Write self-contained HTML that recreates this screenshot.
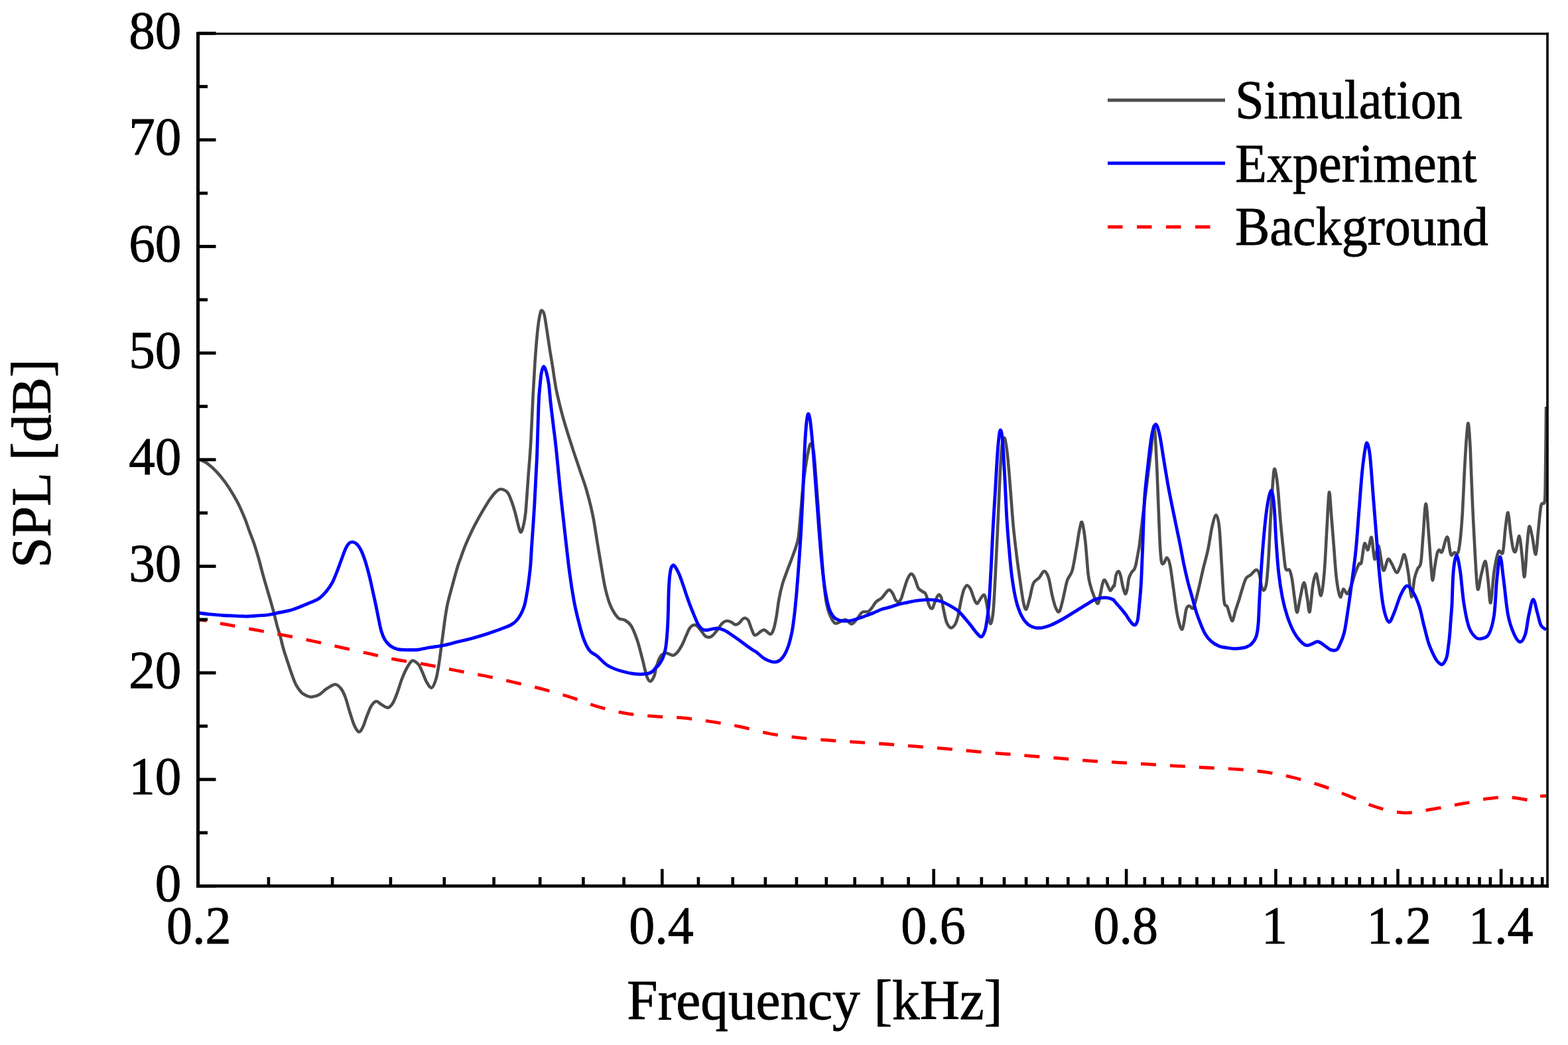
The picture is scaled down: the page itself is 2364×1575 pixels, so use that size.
<!DOCTYPE html>
<html><head><meta charset="utf-8"><title>SPL vs Frequency</title>
<style>
html,body{margin:0;padding:0;background:#fff;}
body{width:2364px;height:1575px;overflow:hidden;}
svg{display:block;}
text{font-family:"Liberation Serif","Times New Roman",serif;fill:#000;stroke:#000;stroke-width:0.9px;}
</style></head><body>
<svg width="2364" height="1575" viewBox="0 0 2364 1575">
<rect width="2364" height="1575" fill="#fff"/>
<path d="M301.8,692.8 C303.7,693.8 309.2,696.1 313.3,699.1 C317.4,702.1 321.9,706.1 326.1,710.6 C330.4,715.1 335.0,720.8 338.8,725.9 C342.6,731.0 345.6,735.7 349.0,741.2 C352.4,746.7 355.8,752.3 359.2,759.1 C362.6,765.9 366.6,775.3 369.4,782.1 C372.2,788.9 373.5,793.7 375.8,800.0 C378.1,806.3 381.0,813.0 383.3,819.9 C385.6,826.8 387.7,833.8 389.9,841.5 C392.1,849.2 394.3,858.3 396.5,866.3 C398.7,874.3 401.1,882.4 403.2,889.6 C405.3,896.8 407.4,903.7 409.0,909.5 C410.6,915.3 411.6,918.6 413.1,924.4 C414.6,930.2 416.6,938.8 418.1,944.3 C419.6,949.8 420.7,952.0 422.2,957.5 C423.7,963.0 425.4,971.0 427.2,977.4 C429.0,983.8 430.9,989.3 433.0,995.7 C435.1,1002.1 437.5,1009.5 439.7,1015.6 C441.9,1021.7 443.8,1027.5 446.3,1032.2 C448.8,1036.9 451.8,1041.0 454.6,1043.8 C457.4,1046.6 460.3,1047.7 462.9,1048.8 C465.5,1049.9 466.9,1050.8 470.0,1050.4 C473.1,1050.1 477.9,1048.8 481.7,1046.7 C485.4,1044.6 488.5,1040.5 492.5,1038.0 C496.5,1035.5 501.9,1031.5 505.5,1031.5 C509.1,1031.5 511.7,1034.8 514.2,1038.0 C516.7,1041.2 518.5,1045.2 520.7,1051.0 C522.9,1056.8 525.0,1065.8 527.2,1072.7 C529.4,1079.6 531.5,1087.2 533.7,1092.2 C536.0,1097.2 538.5,1102.3 540.7,1103.0 C542.9,1103.7 544.6,1100.5 546.7,1096.5 C548.8,1092.5 551.0,1084.6 553.2,1079.2 C555.4,1073.8 557.4,1067.7 559.7,1064.0 C562.1,1060.3 564.8,1057.5 567.3,1057.1 C569.8,1056.7 572.0,1060.2 574.9,1061.8 C577.8,1063.4 581.8,1066.9 584.7,1066.6 C587.6,1066.2 589.9,1063.4 592.2,1059.7 C594.6,1056.0 596.6,1050.3 598.8,1044.5 C601.0,1038.7 603.1,1030.8 605.3,1025.0 C607.5,1019.2 609.3,1014.5 611.8,1009.8 C614.2,1005.1 617.8,999.0 620.0,996.8 C622.2,994.6 622.9,995.6 624.8,996.5 C626.7,997.4 629.3,999.2 631.3,1001.9 C633.3,1004.6 634.7,1008.4 636.7,1012.8 C638.7,1017.1 640.9,1024.0 643.2,1028.0 C645.6,1032.0 648.4,1037.3 650.8,1036.6 C653.1,1035.9 655.5,1029.4 657.3,1023.6 C659.1,1017.8 660.1,1010.9 661.6,1001.9 C663.1,992.9 664.5,980.2 666.0,969.4 C667.5,958.6 668.9,946.7 670.3,936.9 C671.7,927.1 673.1,918.0 674.6,910.8 C676.1,903.6 676.5,902.9 679.0,893.5 C681.5,884.1 687.1,863.5 689.8,854.5 C692.5,845.5 693.4,844.4 695.2,839.3 C697.0,834.2 698.5,829.5 700.7,824.1 C702.9,818.7 705.6,812.5 708.3,806.7 C711.0,800.9 713.6,795.5 716.9,789.4 C720.1,783.3 724.2,776.0 727.8,769.9 C731.4,763.8 735.4,757.2 738.6,752.5 C741.9,747.8 744.6,744.2 747.3,741.7 C750.0,739.2 752.0,737.3 754.9,737.3 C757.8,737.3 762.1,739.2 764.6,741.7 C767.1,744.2 768.1,747.4 770.0,752.2 C771.9,757.0 774.2,764.1 776.1,770.6 C778.0,777.1 779.7,785.7 781.2,791.0 C782.7,796.3 783.9,802.2 785.3,802.2 C786.7,802.2 788.2,795.9 789.4,791.0 C790.6,786.1 791.5,780.2 792.4,772.7 C793.2,765.2 793.8,755.3 794.5,746.1 C795.2,736.9 795.8,726.8 796.5,717.6 C797.2,708.4 797.9,700.5 798.6,691.0 C799.3,681.5 799.8,676.5 800.6,660.4 C801.5,644.3 802.7,613.3 803.7,594.3 C804.7,575.3 805.6,560.6 806.5,546.6 C807.4,532.6 808.4,520.5 809.3,510.2 C810.2,499.9 811.2,491.4 812.1,484.9 C813.0,478.3 814.1,473.7 814.9,470.9 C815.7,468.1 816.1,467.6 817.0,468.1 C817.9,468.6 819.2,468.6 820.5,473.7 C821.8,478.8 823.3,490.0 824.7,498.9 C826.1,507.8 827.5,518.1 828.9,527.0 C830.3,535.9 831.9,544.7 833.1,552.2 C834.3,559.7 834.9,565.3 836.0,571.9 C837.1,578.5 837.4,582.2 839.6,591.9 C841.8,601.6 845.4,616.8 849.1,630.1 C852.8,643.4 857.6,658.3 861.9,671.6 C866.1,684.9 870.9,698.6 874.6,709.8 C878.3,720.9 881.0,727.4 884.2,738.5 C887.4,749.6 891.1,764.0 893.7,776.7 C896.4,789.5 898.0,802.2 900.1,815.0 C902.2,827.8 904.4,841.0 906.5,853.2 C908.6,865.4 910.5,878.2 912.9,888.3 C915.3,898.4 917.6,906.6 920.8,913.8 C924.0,921.0 928.5,927.8 932.0,931.3 C935.5,934.8 938.4,932.6 941.6,934.5 C944.8,936.4 947.9,937.5 951.1,942.5 C954.3,947.5 957.8,956.3 960.7,964.8 C963.6,973.3 966.2,984.5 968.6,993.5 C971.0,1002.5 973.0,1013.4 975.0,1019.0 C977.0,1024.6 978.5,1026.9 980.4,1026.9 C982.3,1026.9 984.7,1022.4 986.2,1019.0 C987.7,1015.6 988.0,1010.9 989.2,1006.7 C990.4,1002.5 992.0,997.3 993.4,994.0 C994.8,990.7 995.7,988.6 997.6,987.0 C999.5,985.4 1001.8,984.1 1004.6,984.2 C1007.4,984.3 1011.7,987.9 1014.5,987.7 C1017.3,987.5 1019.2,985.5 1021.5,982.8 C1023.8,980.1 1026.4,975.6 1028.5,971.6 C1030.6,967.6 1032.2,963.0 1034.1,958.9 C1036.0,954.8 1037.8,949.8 1039.7,947.0 C1041.6,944.2 1043.5,942.7 1045.4,942.1 C1047.3,941.5 1048.9,941.9 1051.0,943.5 C1053.1,945.1 1055.9,949.3 1058.0,951.9 C1060.1,954.5 1061.7,957.5 1063.6,958.9 C1065.5,960.3 1067.3,960.6 1069.2,960.4 C1071.1,960.2 1072.7,959.4 1074.8,957.5 C1076.9,955.6 1079.4,952.1 1081.8,949.1 C1084.2,946.1 1086.6,941.5 1088.9,939.3 C1091.2,937.1 1093.6,936.0 1095.9,935.8 C1098.2,935.6 1100.8,937.0 1102.9,937.9 C1105.0,938.8 1106.6,941.2 1108.5,941.4 C1110.4,941.6 1112.2,940.7 1114.1,939.3 C1116.0,937.9 1118.1,934.3 1119.7,933.0 C1121.3,931.7 1122.5,931.2 1123.9,931.6 C1125.3,932.0 1126.8,932.7 1128.2,935.1 C1129.6,937.5 1131.0,942.8 1132.4,946.3 C1133.8,949.8 1135.3,954.3 1136.6,956.1 C1137.9,957.9 1137.5,958.1 1140.0,957.0 C1142.5,955.9 1147.9,949.6 1151.5,949.4 C1155.1,949.2 1159.2,956.2 1161.7,955.8 C1164.2,955.4 1165.3,951.3 1166.8,946.8 C1168.3,942.3 1169.3,936.2 1170.6,929.0 C1171.9,921.8 1172.9,911.5 1174.4,903.4 C1175.9,895.3 1177.7,887.3 1179.6,880.5 C1181.5,873.7 1183.6,869.0 1185.9,862.6 C1188.2,856.2 1191.2,848.6 1193.6,842.2 C1195.9,835.8 1198.3,829.8 1200.0,824.3 C1201.7,818.8 1202.6,817.1 1203.8,809.0 C1205.0,800.9 1205.8,787.8 1206.9,775.9 C1208.0,764.0 1209.0,749.1 1210.2,737.6 C1211.4,726.1 1212.7,715.9 1214.0,707.0 C1215.3,698.1 1216.4,690.4 1217.8,684.0 C1219.2,677.6 1220.7,669.1 1222.2,668.7 C1223.7,668.3 1225.4,672.0 1226.8,681.4 C1228.2,690.8 1229.3,709.0 1230.6,724.8 C1231.9,740.5 1233.1,758.9 1234.4,775.9 C1235.7,792.9 1236.9,809.9 1238.2,826.9 C1239.5,843.9 1240.8,864.3 1242.1,877.9 C1243.4,891.5 1244.4,900.4 1245.9,908.5 C1247.4,916.6 1248.9,921.3 1251.0,926.4 C1253.1,931.5 1255.9,937.5 1258.7,939.2 C1261.5,940.9 1264.8,937.5 1267.6,936.6 C1270.3,935.8 1272.4,933.5 1275.2,934.1 C1278.0,934.7 1281.2,940.8 1284.2,940.4 C1287.2,940.0 1290.5,934.5 1293.1,931.5 C1295.7,928.5 1297.4,924.2 1300.0,922.6 C1302.6,921.0 1306.3,922.9 1308.8,921.8 C1311.3,920.7 1312.8,918.2 1314.8,915.8 C1316.8,913.3 1318.4,909.5 1320.8,907.1 C1323.2,904.7 1326.8,903.5 1329.4,901.1 C1332.0,898.7 1334.4,894.5 1336.3,892.5 C1338.2,890.5 1339.0,888.8 1340.6,889.1 C1342.2,889.4 1344.2,891.8 1345.8,894.2 C1347.4,896.6 1348.7,901.6 1350.1,903.7 C1351.5,905.9 1353.0,907.4 1354.4,907.1 C1355.8,906.8 1357.3,905.1 1358.7,902.0 C1360.1,898.9 1361.4,893.1 1363.0,888.2 C1364.6,883.3 1366.5,876.6 1368.2,872.7 C1369.9,868.8 1371.7,865.7 1373.3,865.0 C1374.9,864.3 1376.3,866.4 1377.6,868.4 C1378.9,870.4 1379.9,874.0 1381.1,877.0 C1382.2,880.0 1383.1,884.2 1384.5,886.5 C1385.9,888.8 1388.0,889.5 1389.7,890.8 C1391.4,892.1 1393.6,892.6 1394.9,894.2 C1396.2,895.8 1396.6,897.6 1397.4,900.3 C1398.2,903.0 1399.1,908.0 1400.0,910.6 C1400.9,913.2 1401.6,914.8 1402.6,915.8 C1403.6,916.8 1404.9,918.0 1406.1,916.6 C1407.2,915.2 1408.1,910.4 1409.5,907.1 C1410.9,903.8 1413.1,897.9 1414.7,896.8 C1416.3,895.7 1417.9,897.6 1419.0,900.3 C1420.1,903.0 1420.7,908.9 1421.5,913.2 C1422.3,917.5 1423.1,921.8 1424.1,926.1 C1425.1,930.4 1426.0,935.6 1427.6,939.0 C1429.2,942.4 1431.6,945.9 1433.6,946.3 C1435.6,946.7 1437.9,944.2 1439.6,941.6 C1441.3,939.0 1442.8,934.4 1443.9,930.4 C1445.1,926.4 1445.5,922.5 1446.5,917.5 C1447.5,912.5 1448.8,905.2 1450.0,900.3 C1451.2,895.4 1452.1,891.2 1453.4,888.2 C1454.8,885.2 1456.5,882.4 1458.1,882.2 C1459.7,882.1 1461.5,885.0 1462.9,887.3 C1464.3,889.6 1465.2,893.0 1466.3,896.0 C1467.4,899.0 1468.6,903.1 1469.8,905.4 C1471.0,907.7 1471.9,910.0 1473.2,909.7 C1474.5,909.4 1476.1,905.7 1477.5,903.7 C1478.9,901.7 1480.5,898.6 1481.8,897.7 C1483.0,896.8 1483.8,895.4 1485.0,898.5 C1486.2,901.6 1487.4,909.3 1488.7,916.2 C1490.0,923.1 1491.6,938.9 1493.0,940.0 C1494.4,941.1 1496.0,934.6 1497.3,922.7 C1498.6,910.8 1499.5,888.4 1500.6,868.5 C1501.7,848.6 1502.7,826.9 1503.8,803.4 C1504.9,779.9 1506.0,749.3 1507.1,727.6 C1508.2,705.9 1509.1,684.6 1510.4,673.4 C1511.7,662.2 1513.3,658.2 1514.7,660.4 C1516.1,662.6 1517.5,673.4 1519.0,686.4 C1520.5,699.4 1522.0,720.7 1523.4,738.4 C1524.9,756.1 1526.1,775.6 1527.7,792.6 C1529.3,809.6 1531.3,825.8 1533.1,840.3 C1534.9,854.8 1536.9,868.1 1538.5,879.3 C1540.1,890.5 1541.5,901.0 1542.9,907.5 C1544.4,914.0 1545.6,919.4 1547.2,918.3 C1548.8,917.2 1550.8,907.5 1552.6,901.0 C1554.4,894.5 1555.7,884.3 1558.0,879.3 C1560.3,874.2 1564.0,873.8 1566.7,870.7 C1569.4,867.6 1572.0,860.9 1574.3,860.9 C1576.6,860.9 1578.8,864.7 1580.8,870.7 C1582.8,876.7 1584.4,889.1 1586.2,896.7 C1588.0,904.3 1589.9,912.1 1591.7,916.2 C1593.5,920.4 1595.3,923.8 1597.1,921.6 C1598.9,919.4 1600.5,911.0 1602.5,903.2 C1604.5,895.4 1606.7,882.2 1609.0,875.0 C1611.3,867.8 1614.2,868.1 1616.6,859.8 C1618.9,851.5 1621.3,835.2 1623.1,825.1 C1624.9,815.0 1626.0,805.4 1627.4,799.1 C1628.8,792.8 1629.8,784.7 1631.3,787.2 C1632.8,789.7 1634.5,801.1 1636.1,814.3 C1637.7,827.4 1639.3,854.6 1640.7,866.1 C1642.1,877.6 1642.9,878.1 1644.2,883.3 C1645.5,888.5 1647.0,892.7 1648.8,897.1 C1650.6,901.5 1653.4,910.1 1655.1,909.7 C1656.8,909.3 1657.9,900.0 1659.1,894.8 C1660.3,889.6 1661.5,882.2 1662.5,878.7 C1663.5,875.2 1664.2,873.7 1665.4,874.1 C1666.6,874.5 1668.0,878.3 1669.4,881.0 C1670.8,883.7 1672.5,889.8 1674.0,890.2 C1675.5,890.6 1677.6,884.6 1678.6,883.3 C1679.6,882.0 1679.3,885.3 1680.0,882.5 C1680.7,879.7 1681.6,870.0 1682.7,866.4 C1683.8,862.8 1685.5,860.6 1686.7,861.1 C1687.9,861.6 1688.8,865.5 1689.8,869.1 C1690.8,872.7 1691.4,878.2 1692.5,882.5 C1693.6,886.8 1695.3,894.2 1696.5,895.0 C1697.7,895.8 1698.7,890.9 1699.6,887.0 C1700.5,883.1 1700.9,875.8 1701.9,871.8 C1703.0,867.8 1704.5,865.3 1705.9,862.9 C1707.3,860.5 1709.2,859.9 1710.4,857.5 C1711.6,855.1 1712.2,852.2 1713.0,848.6 C1713.8,845.0 1714.5,840.1 1715.3,836.1 C1716.0,832.1 1717.0,827.4 1717.5,824.5 C1718.0,821.6 1717.3,826.6 1718.2,818.8 C1719.1,811.0 1721.2,792.5 1723.0,777.6 C1724.8,762.7 1727.1,745.3 1729.1,729.1 C1731.1,712.9 1733.4,695.2 1735.2,680.6 C1737.0,666.0 1738.6,639.8 1740.0,641.8 C1741.4,643.8 1742.6,674.1 1743.6,692.7 C1744.6,711.3 1745.3,733.1 1746.1,753.3 C1746.9,773.5 1747.7,798.5 1748.5,813.9 C1749.3,829.3 1749.9,839.6 1750.9,845.5 C1751.9,851.4 1753.1,849.9 1754.5,849.1 C1755.9,848.3 1757.8,840.0 1759.4,840.6 C1761.0,841.2 1762.6,845.0 1764.2,852.7 C1765.8,860.4 1767.3,874.2 1769.1,886.7 C1770.9,899.2 1773.0,917.6 1775.2,927.9 C1777.4,938.2 1780.2,950.1 1782.4,948.5 C1784.6,946.9 1786.7,924.1 1788.5,918.2 C1790.3,912.3 1791.5,913.7 1793.3,913.3 C1795.1,912.9 1797.2,919.8 1799.4,915.8 C1801.6,911.8 1804.3,898.8 1806.7,889.1 C1809.1,879.4 1811.5,867.7 1813.9,857.6 C1816.3,847.5 1819.0,839.0 1821.2,828.5 C1823.4,818.0 1825.3,803.2 1827.3,794.5 C1829.3,785.8 1831.5,776.4 1833.3,776.4 C1835.1,776.4 1836.8,782.2 1838.2,794.5 C1839.6,806.8 1840.6,831.7 1841.8,850.3 C1843.0,868.9 1844.1,895.4 1845.5,906.1 C1846.9,916.8 1848.7,910.5 1850.3,914.5 C1851.9,918.5 1853.8,926.8 1855.2,930.3 C1856.6,933.8 1857.2,937.1 1858.4,935.4 C1859.7,933.7 1861.0,925.5 1862.7,920.1 C1864.4,914.7 1866.5,909.0 1868.4,902.9 C1870.3,896.8 1872.3,889.0 1874.1,883.7 C1875.8,878.4 1877.0,874.2 1878.9,871.3 C1880.8,868.4 1883.0,868.6 1885.6,866.5 C1888.1,864.4 1892.0,858.9 1894.2,858.9 C1896.4,858.9 1897.7,862.4 1899.0,866.5 C1900.3,870.6 1900.8,879.9 1901.9,883.7 C1903.0,887.5 1904.4,890.5 1905.7,889.5 C1907.0,888.5 1908.4,885.7 1909.5,878.0 C1910.6,870.3 1911.4,858.8 1912.4,843.5 C1913.4,828.2 1914.3,803.6 1915.3,786.1 C1916.3,768.6 1917.2,751.4 1918.2,738.3 C1919.2,725.2 1920.0,711.5 1921.0,707.7 C1922.0,703.9 1922.9,710.2 1923.9,715.3 C1924.9,720.4 1925.7,726.5 1926.8,738.3 C1927.9,750.1 1929.3,771.8 1930.6,786.1 C1931.9,800.5 1933.1,812.6 1934.4,824.4 C1935.7,836.2 1936.7,851.1 1938.3,856.9 C1939.9,862.6 1942.4,856.3 1944.0,858.9 C1945.6,861.5 1946.5,865.2 1947.8,872.2 C1949.1,879.2 1950.4,892.5 1951.7,901.0 C1953.0,909.5 1954.1,923.0 1955.5,923.0 C1956.9,923.0 1958.5,908.5 1960.3,901.0 C1962.0,893.5 1964.2,878.0 1966.0,878.0 C1967.8,878.0 1969.4,893.7 1970.8,901.0 C1972.2,908.3 1973.2,925.2 1974.6,922.0 C1976.0,918.8 1977.8,891.4 1979.4,881.8 C1981.0,872.2 1982.8,864.6 1984.2,864.6 C1985.6,864.6 1986.7,876.4 1988.0,881.8 C1989.3,887.2 1990.4,900.3 1991.8,897.1 C1993.2,893.9 1995.1,879.6 1996.6,862.7 C1998.0,845.8 1999.3,815.8 2000.5,795.7 C2001.7,775.6 2002.8,745.3 2003.9,742.1 C2005.0,738.9 2006.0,762.9 2007.2,776.6 C2008.4,790.3 2009.7,808.5 2011.0,824.4 C2012.3,840.3 2013.4,859.7 2015.0,872.2 C2016.6,884.7 2018.9,897.0 2020.6,899.6 C2022.3,902.2 2023.5,888.6 2025.3,887.8 C2027.1,887.0 2029.2,895.7 2031.2,894.9 C2033.2,894.1 2035.1,888.2 2037.1,883.1 C2039.1,878.0 2041.0,869.7 2043.0,864.2 C2045.0,858.7 2047.3,852.8 2048.9,850.0 C2050.5,847.2 2051.1,852.8 2052.5,847.7 C2053.9,842.6 2055.5,822.5 2057.2,819.4 C2058.8,816.2 2060.6,830.4 2062.4,828.8 C2064.2,827.2 2066.1,807.5 2067.8,809.9 C2069.5,812.2 2070.7,840.7 2072.5,842.9 C2074.3,845.1 2076.2,820.1 2078.4,822.9 C2080.6,825.7 2083.1,856.2 2085.5,859.5 C2087.9,862.8 2090.4,844.5 2092.6,842.9 C2094.8,841.3 2096.3,846.6 2098.5,850.0 C2100.7,853.4 2103.4,862.6 2105.6,863.0 C2107.8,863.4 2109.5,856.9 2111.5,852.4 C2113.5,847.9 2115.4,833.9 2117.4,835.9 C2119.4,837.9 2121.5,853.6 2123.3,864.2 C2125.1,874.8 2126.4,898.4 2128.0,899.6 C2129.6,900.8 2131.1,878.4 2132.7,871.3 C2134.3,864.2 2135.8,861.0 2137.4,857.1 C2139.0,853.2 2140.8,856.4 2142.2,847.7 C2143.6,839.1 2144.4,820.0 2145.7,805.2 C2146.9,790.5 2148.3,759.2 2149.7,759.2 C2151.1,759.2 2152.7,789.7 2154.0,805.2 C2155.3,820.7 2156.5,840.8 2157.5,852.4 C2158.5,864.0 2158.9,874.8 2159.9,874.8 C2160.9,874.8 2162.2,859.3 2163.4,852.4 C2164.6,845.5 2165.8,837.4 2166.9,833.5 C2168.0,829.6 2168.8,829.1 2170.0,828.8 C2171.2,828.5 2172.2,834.8 2174.2,831.5 C2176.2,828.2 2179.8,808.6 2182.0,809.3 C2184.2,809.9 2185.4,831.5 2187.2,835.4 C2188.9,839.3 2190.5,833.7 2192.5,832.8 C2194.5,831.9 2197.1,838.5 2199.0,830.2 C2200.9,821.9 2202.7,804.0 2204.2,783.1 C2205.7,762.2 2207.0,726.4 2208.2,704.6 C2209.4,682.8 2210.6,663.2 2211.6,652.3 C2212.6,641.4 2213.0,634.8 2213.9,639.2 C2214.8,643.6 2215.8,658.9 2216.8,678.5 C2217.8,698.1 2218.7,730.8 2219.9,756.9 C2221.1,783.0 2222.6,813.6 2223.9,835.4 C2225.2,857.2 2226.3,882.5 2227.8,887.7 C2229.3,892.9 2231.1,873.8 2233.0,866.8 C2234.9,859.8 2237.8,844.6 2239.5,845.9 C2241.2,847.2 2242.2,864.2 2243.5,874.7 C2244.8,885.2 2245.9,910.9 2247.4,908.7 C2248.9,906.5 2250.6,874.5 2252.6,861.6 C2254.6,848.7 2257.0,836.3 2259.2,831.5 C2261.4,826.7 2264.0,838.7 2265.7,832.8 C2267.4,826.9 2268.3,806.2 2269.6,796.2 C2270.9,786.2 2272.3,771.3 2273.6,772.6 C2274.9,773.9 2276.2,794.8 2277.5,804.0 C2278.8,813.2 2280.1,823.2 2281.4,827.6 C2282.7,832.0 2283.8,833.5 2285.3,830.2 C2286.8,826.9 2289.1,807.1 2290.6,808.0 C2292.1,808.9 2293.2,825.2 2294.5,835.4 C2295.8,845.6 2297.1,871.6 2298.4,869.4 C2299.7,867.2 2301.1,834.9 2302.3,822.3 C2303.5,809.7 2304.2,795.8 2305.5,793.6 C2306.8,791.4 2308.5,802.3 2310.2,809.3 C2311.8,816.3 2313.9,837.1 2315.4,835.4 C2316.9,833.6 2318.0,811.0 2319.3,798.8 C2320.6,786.6 2321.8,769.2 2323.3,762.2 C2324.8,755.2 2327.4,762.1 2328.5,756.9 C2329.6,751.7 2329.4,754.8 2329.8,730.8 C2330.2,706.8 2330.9,632.7 2331.1,613.1" fill="none" stroke="#4d4d4d" stroke-width="4.6" stroke-linejoin="round"/>
<path d="M299.5,934.5 C300.4,934.5 297.9,933.5 305.2,934.7 C312.5,935.9 329.9,939.2 343.5,941.7 C357.1,944.2 372.5,947.1 386.8,949.7 C401.1,952.4 415.1,954.8 429.5,957.6 C443.9,960.4 458.5,963.4 472.9,966.5 C487.2,969.6 501.2,972.9 515.6,976.1 C530.0,979.3 545.8,982.8 559.0,985.7 C572.2,988.6 580.4,990.9 594.6,993.6 C608.8,996.3 628.8,999.1 644.2,1001.9 C659.6,1004.7 672.9,1007.7 687.2,1010.5 C701.6,1013.3 715.9,1015.6 730.3,1018.5 C744.6,1021.4 759.0,1024.7 773.3,1028.0 C787.6,1031.3 802.1,1034.5 816.3,1038.2 C830.5,1041.9 844.4,1045.9 858.4,1050.3 C872.4,1054.7 886.1,1060.5 900.3,1064.7 C914.4,1068.9 928.8,1072.7 943.3,1075.2 C957.8,1077.7 972.4,1078.5 987.0,1079.7 C1001.6,1080.9 1016.4,1080.8 1031.0,1082.2 C1045.6,1083.6 1060.2,1085.8 1074.7,1088.0 C1089.2,1090.2 1103.2,1092.6 1117.7,1095.6 C1132.2,1098.6 1147.0,1103.3 1161.5,1106.0 C1176.0,1108.7 1190.2,1110.3 1204.8,1111.9 C1219.4,1113.5 1234.2,1114.6 1248.9,1115.7 C1263.6,1116.8 1278.1,1117.7 1292.7,1118.7 C1307.3,1119.7 1322.2,1120.5 1336.8,1121.5 C1351.4,1122.5 1365.5,1123.8 1380.2,1124.9 C1394.9,1126.1 1410.2,1127.2 1424.8,1128.4 C1439.4,1129.6 1453.4,1131.0 1468.1,1132.3 C1482.8,1133.6 1498.0,1134.9 1512.7,1136.1 C1527.4,1137.3 1541.4,1138.4 1556.1,1139.6 C1570.8,1140.8 1586.1,1142.0 1600.7,1143.2 C1615.3,1144.4 1629.3,1145.8 1643.8,1146.8 C1658.3,1147.8 1673.2,1148.4 1687.9,1149.3 C1702.6,1150.2 1717.0,1151.0 1731.7,1151.9 C1746.4,1152.8 1761.5,1153.8 1776.1,1154.6 C1790.7,1155.4 1804.8,1156.2 1819.4,1157.0 C1834.1,1157.8 1849.3,1158.2 1864.0,1159.3 C1878.7,1160.4 1893.1,1161.6 1907.5,1163.7 C1921.9,1165.8 1936.0,1168.5 1950.3,1172.0 C1964.5,1175.5 1979.2,1179.8 1993.0,1184.4 C2006.8,1189.0 2019.6,1194.1 2033.2,1199.4 C2046.8,1204.7 2060.5,1212.0 2074.6,1216.3 C2088.7,1220.6 2103.6,1224.6 2117.9,1225.1 C2132.2,1225.6 2148.2,1221.3 2160.7,1219.4 C2173.1,1217.5 2185.3,1214.8 2192.6,1213.5 C2199.9,1212.2 2200.4,1212.1 2204.3,1211.4 C2208.2,1210.7 2210.5,1210.5 2216.0,1209.4 C2221.5,1208.3 2231.6,1205.8 2237.1,1204.7 C2242.6,1203.7 2244.9,1203.6 2248.8,1203.1 C2252.7,1202.6 2257.0,1201.9 2260.6,1201.6 C2264.2,1201.3 2267.2,1201.1 2270.5,1201.2 C2273.8,1201.3 2276.8,1201.6 2280.3,1202.0 C2283.8,1202.4 2287.8,1203.0 2291.5,1203.6 C2295.2,1204.2 2299.9,1205.2 2302.7,1205.6 C2305.4,1206.0 2306.1,1206.2 2308.0,1205.8 C2309.9,1205.4 2311.8,1204.3 2314.0,1203.4 C2316.2,1202.5 2318.2,1200.8 2321.0,1200.2 C2323.8,1199.6 2329.3,1199.7 2331.0,1199.6" fill="none" stroke="#ff0000" stroke-width="4.8" stroke-dasharray="23 21" stroke-dashoffset="11"/>
<path d="M299.3,923.7 C301.6,924.0 307.1,924.9 313.3,925.5 C319.5,926.1 327.4,927.0 336.3,927.5 C345.2,928.0 361.3,928.5 366.9,928.8 C372.5,929.0 366.7,929.1 370.0,929.0 C373.3,928.9 381.1,928.4 386.6,928.0 C392.1,927.6 397.7,927.6 403.2,926.9 C408.7,926.1 414.3,924.6 419.8,923.5 C425.3,922.4 430.8,921.7 436.3,920.2 C441.8,918.7 447.3,916.5 452.9,914.4 C458.5,912.2 465.2,909.4 470.0,907.3 C474.8,905.1 477.9,904.3 481.7,901.5 C485.4,898.7 489.2,894.6 492.5,890.6 C495.8,886.6 498.7,882.3 501.2,877.6 C503.7,872.9 505.5,867.8 507.7,862.4 C509.9,857.0 512.0,850.8 514.2,845.0 C516.4,839.2 518.7,832.0 520.7,827.7 C522.7,823.4 524.3,820.8 526.1,819.0 C527.9,817.2 529.5,816.7 531.5,816.9 C533.5,817.1 535.8,817.9 538.0,820.1 C540.2,822.3 542.4,825.4 544.6,829.9 C546.8,834.4 548.9,840.3 551.1,847.2 C553.3,854.1 555.8,863.9 557.6,871.1 C559.4,878.3 560.5,884.1 561.9,890.6 C563.3,897.1 564.8,903.2 566.2,910.1 C567.7,917.0 569.2,924.9 570.6,931.8 C572.0,938.7 573.3,945.9 574.9,951.3 C576.5,956.7 578.1,960.7 580.3,964.3 C582.5,967.9 584.8,970.6 587.9,973.0 C591.0,975.4 594.8,977.3 598.8,978.4 C602.8,979.5 608.3,979.3 611.8,979.5 C615.3,979.7 616.9,979.5 620.0,979.5 C623.1,979.5 625.6,979.8 630.2,979.2 C634.8,978.6 641.0,977.0 647.5,975.9 C654.0,974.8 662.0,974.2 669.2,972.7 C676.4,971.2 683.7,969.0 690.9,967.2 C698.1,965.4 705.4,963.8 712.6,961.8 C719.8,959.8 727.1,957.6 734.3,955.3 C741.5,952.9 750.0,949.9 756.0,947.7 C762.0,945.5 766.3,944.0 770.0,942.0 C773.7,940.0 775.7,938.6 778.2,935.9 C780.8,933.2 783.3,929.4 785.3,925.7 C787.3,922.0 789.0,917.9 790.4,913.5 C791.8,909.1 792.5,904.7 793.5,899.2 C794.5,893.8 795.5,888.3 796.5,880.8 C797.5,873.3 798.8,863.8 799.6,854.3 C800.5,844.8 800.9,833.9 801.6,823.7 C802.3,813.5 803.0,803.3 803.7,793.1 C804.4,782.9 805.0,774.3 805.7,762.4 C806.4,750.5 807.1,735.2 807.8,721.6 C808.5,708.0 809.1,699.7 809.8,680.8 C810.5,661.9 811.4,625.1 812.1,608.4 C812.8,591.6 813.5,588.0 814.2,580.3 C814.9,572.6 815.4,566.7 816.3,562.0 C817.2,557.3 818.5,552.2 819.8,552.2 C821.1,552.2 822.7,557.3 824.0,562.0 C825.3,566.7 826.5,572.6 827.5,580.3 C828.5,588.0 829.1,597.9 830.3,608.4 C831.5,618.9 833.5,634.9 834.5,643.5 C835.5,652.1 835.8,652.7 836.6,660.0 C837.5,667.3 838.1,672.3 839.6,687.5 C841.1,702.7 843.8,731.0 845.9,751.2 C848.0,771.4 850.2,790.0 852.3,808.6 C854.4,827.2 856.6,846.9 858.7,862.8 C860.8,878.7 863.0,892.5 865.1,904.2 C867.2,915.9 869.0,923.3 871.4,932.9 C873.8,942.5 876.5,953.6 879.4,961.6 C882.3,969.6 885.5,976.2 889.0,980.7 C892.5,985.2 895.6,985.0 900.1,988.7 C904.6,992.4 910.2,999.3 916.1,1003.0 C922.0,1006.7 928.3,1008.9 935.2,1011.0 C942.1,1013.1 951.1,1015.0 957.5,1015.8 C963.9,1016.6 969.1,1016.3 973.4,1015.8 C977.6,1015.3 980.2,1014.5 983.0,1012.6 C985.8,1010.7 988.5,1006.1 990.0,1004.6 C991.5,1003.1 990.5,1005.9 992.0,1003.9 C993.5,1001.9 997.1,996.8 999.0,992.6 C1000.9,988.4 1002.1,984.0 1003.2,978.6 C1004.3,973.2 1004.8,967.0 1005.4,960.4 C1006.0,953.8 1006.4,946.3 1006.8,939.3 C1007.1,932.3 1007.3,926.4 1007.5,918.2 C1007.7,910.0 1007.9,898.4 1008.2,890.2 C1008.6,882.0 1009.0,874.7 1009.6,869.1 C1010.2,863.5 1010.8,859.4 1011.7,856.5 C1012.6,853.6 1013.9,851.6 1015.2,851.6 C1016.5,851.6 1017.9,854.0 1019.4,856.5 C1020.9,859.0 1022.5,862.1 1024.3,866.3 C1026.0,870.5 1028.0,876.4 1029.9,881.8 C1031.8,887.2 1033.6,893.2 1035.5,898.6 C1037.4,904.0 1039.2,909.1 1041.1,914.0 C1043.0,918.9 1044.9,923.6 1046.8,928.1 C1048.7,932.6 1050.5,937.4 1052.4,940.7 C1054.3,944.0 1056.1,946.2 1058.0,947.7 C1059.9,949.2 1061.3,949.7 1063.6,949.8 C1065.9,949.9 1069.0,948.9 1072.0,948.4 C1075.0,947.9 1078.5,946.8 1081.8,947.0 C1085.1,947.2 1088.2,948.2 1091.7,949.8 C1095.2,951.4 1099.2,954.3 1102.9,956.8 C1106.6,959.3 1110.3,961.9 1114.1,964.6 C1117.8,967.3 1121.7,970.3 1125.4,973.0 C1129.2,975.7 1134.2,979.1 1136.6,980.7 C1139.0,982.3 1137.3,980.5 1140.0,982.5 C1142.7,984.5 1148.1,990.2 1152.8,992.8 C1157.5,995.4 1163.8,997.9 1168.1,997.9 C1172.3,997.9 1175.1,996.2 1178.3,992.8 C1181.5,989.4 1184.7,983.8 1187.2,977.4 C1189.8,971.0 1191.9,962.6 1193.6,954.5 C1195.3,946.4 1196.1,939.6 1197.4,929.0 C1198.7,918.4 1199.9,905.6 1201.2,890.7 C1202.5,875.8 1204.0,854.6 1205.1,839.7 C1206.2,824.8 1206.8,816.3 1207.6,801.4 C1208.4,786.5 1209.3,769.4 1210.2,750.3 C1211.1,731.2 1211.9,704.5 1212.7,686.6 C1213.5,668.8 1214.4,653.6 1215.3,643.2 C1216.2,632.8 1217.2,625.3 1218.3,624.0 C1219.4,622.7 1220.5,627.2 1221.7,635.5 C1222.9,643.8 1224.2,658.9 1225.5,673.8 C1226.8,688.7 1228.0,707.8 1229.3,724.8 C1230.6,741.8 1231.8,758.9 1233.1,775.9 C1234.4,792.9 1235.7,812.0 1237.0,826.9 C1238.3,841.8 1239.5,854.2 1240.8,865.2 C1242.1,876.2 1243.1,884.7 1244.6,893.2 C1246.1,901.7 1247.6,910.0 1249.7,916.2 C1251.8,922.4 1254.4,927.0 1257.4,930.2 C1260.4,933.4 1263.3,934.4 1267.6,935.3 C1271.8,936.1 1277.5,936.1 1282.9,935.3 C1288.3,934.4 1296.5,931.3 1300.0,930.2 C1303.5,929.1 1300.8,929.8 1303.6,928.7 C1306.3,927.7 1312.2,925.6 1316.5,923.9 C1320.8,922.2 1325.1,919.8 1329.4,918.3 C1333.7,916.8 1338.0,916.2 1342.3,914.9 C1346.6,913.6 1351.0,911.8 1355.3,910.6 C1359.6,909.5 1363.9,908.9 1368.2,908.0 C1372.5,907.1 1376.8,906.0 1381.1,905.4 C1385.4,904.8 1389.7,904.3 1394.0,904.1 C1398.3,903.9 1402.6,903.7 1406.9,904.1 C1411.2,904.5 1415.5,905.2 1419.8,906.7 C1424.1,908.2 1428.4,910.7 1432.7,913.2 C1437.0,915.7 1442.1,918.8 1445.7,921.8 C1449.3,924.8 1451.4,928.0 1454.3,931.3 C1457.2,934.6 1460.0,938.0 1462.9,941.6 C1465.8,945.2 1468.9,949.8 1471.5,952.8 C1474.1,955.8 1476.5,959.1 1478.4,959.7 C1480.3,960.3 1481.4,958.8 1482.7,956.2 C1484.0,953.7 1485.2,951.8 1486.5,944.4 C1487.8,937.0 1489.5,926.3 1490.8,911.8 C1492.1,897.3 1493.0,877.5 1494.1,857.6 C1495.2,837.7 1496.2,812.5 1497.3,792.6 C1498.4,772.7 1499.5,756.5 1500.6,738.4 C1501.7,720.3 1502.8,697.9 1503.8,684.2 C1504.8,670.5 1505.6,662.0 1506.4,656.0 C1507.2,650.0 1508.0,647.3 1508.8,648.4 C1509.6,649.5 1510.4,651.1 1511.4,662.5 C1512.4,673.9 1513.6,696.8 1514.7,716.7 C1515.8,736.6 1516.8,763.7 1517.9,781.8 C1519.0,799.9 1519.9,810.6 1521.2,825.1 C1522.5,839.6 1523.7,855.1 1525.5,868.5 C1527.3,881.9 1529.5,895.2 1532.0,905.3 C1534.5,915.4 1537.5,923.1 1540.7,929.2 C1544.0,935.4 1547.2,939.3 1551.5,942.2 C1555.8,945.1 1561.3,946.5 1566.7,946.5 C1572.1,946.5 1578.3,944.4 1584.1,942.2 C1589.9,940.0 1595.3,936.9 1601.4,933.5 C1607.5,930.1 1614.2,925.8 1620.9,921.6 C1627.7,917.5 1636.9,911.6 1641.9,908.6 C1646.9,905.6 1648.0,904.6 1651.1,903.4 C1654.2,902.1 1657.0,901.5 1660.3,901.1 C1663.5,900.7 1667.5,900.6 1670.6,901.1 C1673.6,901.6 1677.0,903.2 1678.6,904.0 C1680.2,904.8 1678.9,904.4 1680.0,905.7 C1681.1,907.0 1683.5,909.8 1685.4,912.0 C1687.3,914.2 1689.5,916.6 1691.6,919.1 C1693.7,921.6 1696.0,924.4 1697.9,927.1 C1699.8,929.8 1701.4,932.8 1703.2,935.2 C1705.0,937.6 1707.1,940.4 1708.6,941.4 C1710.1,942.4 1711.1,942.3 1712.1,941.4 C1713.1,940.5 1714.1,938.5 1714.8,936.1 C1715.5,933.7 1715.8,930.8 1716.2,927.1 C1716.7,923.4 1717.1,918.2 1717.5,913.8 C1717.9,909.3 1718.3,905.6 1718.8,900.4 C1719.2,895.2 1719.8,888.5 1720.2,882.5 C1720.6,876.5 1720.8,871.3 1721.1,864.6 C1721.4,857.9 1721.7,849.7 1722.0,842.3 C1722.3,834.9 1722.3,834.8 1722.9,820.0 C1723.5,805.2 1724.3,772.5 1725.5,753.3 C1726.7,734.1 1728.5,720.9 1730.3,704.8 C1732.1,688.6 1734.4,667.3 1736.4,656.4 C1738.4,645.5 1740.4,639.4 1742.4,639.4 C1744.4,639.4 1746.5,647.5 1748.5,656.4 C1750.5,665.3 1752.5,680.6 1754.5,692.7 C1756.5,704.8 1758.6,717.8 1760.6,729.1 C1762.6,740.4 1764.7,750.5 1766.7,760.6 C1768.7,770.7 1770.7,780.0 1772.7,789.7 C1774.7,799.4 1776.8,808.7 1778.8,818.8 C1780.8,828.9 1782.8,840.6 1784.8,850.3 C1786.8,860.0 1788.9,868.9 1790.9,877.0 C1792.9,885.1 1795.0,891.5 1797.0,898.8 C1799.0,906.1 1801.0,914.1 1803.0,920.6 C1805.0,927.1 1806.9,932.0 1809.1,937.6 C1811.3,943.2 1813.6,949.6 1816.4,954.5 C1819.2,959.4 1822.5,963.5 1826.1,966.7 C1829.7,969.9 1834.2,972.3 1838.2,973.9 C1842.2,975.5 1846.7,975.8 1850.3,976.4 C1853.9,977.0 1857.6,977.4 1860.0,977.6 C1862.4,977.8 1861.6,977.8 1864.6,977.5 C1867.6,977.2 1874.2,976.9 1878.0,975.6 C1881.8,974.3 1884.8,972.8 1887.5,969.9 C1890.2,967.0 1892.6,963.5 1894.2,958.4 C1895.8,953.3 1896.3,948.8 1897.1,939.2 C1897.9,929.6 1898.2,915.4 1899.0,901.0 C1899.8,886.6 1900.8,869.1 1901.9,853.1 C1903.0,837.1 1904.3,820.3 1905.7,805.3 C1907.1,790.3 1908.7,774.2 1910.5,763.2 C1912.3,752.2 1914.8,739.2 1916.6,739.2 C1918.3,739.2 1919.8,750.6 1921.0,763.2 C1922.2,775.8 1922.8,798.2 1923.9,814.8 C1925.0,831.4 1926.1,848.3 1927.7,862.7 C1929.3,877.1 1931.3,889.8 1933.5,901.0 C1935.7,912.2 1938.2,921.1 1941.1,929.7 C1944.0,938.3 1947.5,946.6 1950.7,952.6 C1953.9,958.6 1957.1,962.6 1960.3,966.0 C1963.5,969.4 1966.6,972.1 1969.8,972.7 C1973.0,973.4 1976.5,970.9 1979.4,969.9 C1982.3,968.9 1984.2,966.5 1987.1,967.0 C1990.0,967.5 1993.4,970.6 1996.6,972.7 C1999.8,974.8 2003.1,978.3 2006.2,979.4 C2009.3,980.5 2012.8,980.5 2015.0,979.4 C2017.2,978.3 2017.5,977.0 2019.4,972.7 C2021.3,968.5 2024.3,962.9 2026.5,953.9 C2028.7,944.9 2030.4,931.5 2032.4,918.5 C2034.4,905.5 2036.3,891.0 2038.3,876.0 C2040.3,861.0 2042.4,846.5 2044.2,828.8 C2046.0,811.1 2047.3,789.5 2048.9,769.8 C2050.5,750.1 2052.1,726.5 2053.7,710.8 C2055.3,695.1 2057.1,682.5 2058.4,675.4 C2059.7,668.3 2060.2,666.3 2061.4,668.3 C2062.6,670.3 2064.0,674.2 2065.5,687.2 C2067.0,700.2 2068.6,726.5 2070.2,746.2 C2071.8,765.9 2073.3,785.5 2074.9,805.2 C2076.5,824.9 2077.8,846.1 2079.6,864.2 C2081.4,882.3 2083.1,901.5 2085.5,913.7 C2087.9,925.9 2091.1,935.7 2093.8,937.3 C2096.6,938.9 2099.1,929.9 2102.0,923.2 C2104.9,916.5 2108.3,903.9 2111.5,897.2 C2114.7,890.5 2117.8,883.9 2120.9,883.1 C2124.1,882.3 2127.2,887.3 2130.4,892.5 C2133.6,897.7 2137.4,906.6 2140.0,914.5 C2142.6,922.4 2143.9,931.1 2146.1,939.8 C2148.3,948.5 2151.1,960.1 2153.0,966.6 C2154.9,973.1 2156.1,975.2 2157.6,978.9 C2159.1,982.6 2160.7,985.9 2162.2,988.8 C2163.7,991.7 2165.1,994.5 2166.8,996.5 C2168.5,998.5 2170.8,1000.3 2172.2,1001.1 C2173.6,1001.9 2174.0,1002.0 2175.2,1001.1 C2176.3,1000.2 2178.0,997.9 2179.1,995.7 C2180.2,993.5 2181.0,991.3 2181.7,988.1 C2182.4,984.9 2182.8,980.4 2183.3,976.6 C2183.8,972.8 2184.4,968.9 2184.8,965.1 C2185.2,961.3 2185.6,957.4 2185.9,953.6 C2186.2,949.8 2186.4,946.6 2186.7,942.1 C2187.0,937.6 2187.5,931.9 2187.9,926.8 C2188.3,921.7 2188.4,922.4 2189.0,911.5 C2189.6,900.6 2190.0,874.1 2191.2,861.6 C2192.3,849.1 2194.2,836.7 2195.9,836.7 C2197.6,836.7 2199.8,849.6 2201.6,861.6 C2203.4,873.6 2204.7,894.8 2206.9,908.7 C2209.1,922.7 2211.6,936.6 2214.7,945.3 C2217.8,954.0 2221.9,958.2 2225.2,961.0 C2228.5,963.8 2231.0,963.2 2234.3,962.3 C2237.6,961.4 2241.8,961.6 2244.8,955.7 C2247.9,949.8 2250.6,940.5 2252.6,927.0 C2254.6,913.5 2255.1,889.3 2256.6,874.7 C2258.1,860.1 2260.1,839.3 2261.8,839.3 C2263.5,839.3 2265.0,860.1 2267.0,874.7 C2269.0,889.3 2271.0,913.5 2273.6,927.0 C2276.2,940.5 2279.6,949.0 2282.7,955.7 C2285.8,962.5 2289.1,967.5 2291.9,967.5 C2294.7,967.5 2297.5,962.5 2299.7,955.7 C2301.9,949.0 2302.9,935.7 2304.9,927.0 C2306.9,918.3 2309.3,903.8 2311.5,903.4 C2313.7,903.0 2316.0,917.8 2318.0,924.4 C2320.0,931.0 2321.1,938.6 2323.3,942.7 C2325.5,946.8 2329.8,948.1 2331.1,949.2" fill="none" stroke="#0000ff" stroke-width="4.9" stroke-linejoin="round"/>
<path d="M296,50.9 H2334.8" stroke="#000" stroke-width="3.4"/>
<path d="M2333,49.2 V1337.8" stroke="#000" stroke-width="3.6"/>
<path d="M298.5,48 V1337.8" stroke="#000" stroke-width="5"/>
<path d="M296,1335.4 H2334.8" stroke="#000" stroke-width="4.8"/>
<path d="M298.5,1335.4 H325.5" stroke="#000" stroke-width="4.8"/>
<path d="M298.5,1174.8 H325.5" stroke="#000" stroke-width="4.8"/>
<path d="M298.5,1014.1 H325.5" stroke="#000" stroke-width="4.8"/>
<path d="M298.5,853.5 H325.5" stroke="#000" stroke-width="4.8"/>
<path d="M298.5,692.8 H325.5" stroke="#000" stroke-width="4.8"/>
<path d="M298.5,532.1 H325.5" stroke="#000" stroke-width="4.8"/>
<path d="M298.5,371.5 H325.5" stroke="#000" stroke-width="4.8"/>
<path d="M298.5,210.8 H325.5" stroke="#000" stroke-width="4.8"/>
<path d="M298.5,50.2 H325.5" stroke="#000" stroke-width="4.8"/>
<path d="M298.5,1255.1 H313" stroke="#000" stroke-width="4.8"/>
<path d="M298.5,1094.4 H313" stroke="#000" stroke-width="4.8"/>
<path d="M298.5,933.8 H313" stroke="#000" stroke-width="4.8"/>
<path d="M298.5,773.1 H313" stroke="#000" stroke-width="4.8"/>
<path d="M298.5,612.5 H313" stroke="#000" stroke-width="4.8"/>
<path d="M298.5,451.8 H313" stroke="#000" stroke-width="4.8"/>
<path d="M298.5,291.2 H313" stroke="#000" stroke-width="4.8"/>
<path d="M298.5,130.5 H313" stroke="#000" stroke-width="4.8"/>
<path d="M298.5,1335.4 V1309.7" stroke="#000" stroke-width="4.6"/>
<path d="M404.9,1335.4 V1322" stroke="#000" stroke-width="4.6"/>
<path d="M501.1,1335.4 V1322" stroke="#000" stroke-width="4.6"/>
<path d="M588.9,1335.4 V1322" stroke="#000" stroke-width="4.6"/>
<path d="M669.8,1335.4 V1322" stroke="#000" stroke-width="4.6"/>
<path d="M744.6,1335.4 V1322" stroke="#000" stroke-width="4.6"/>
<path d="M814.2,1335.4 V1322" stroke="#000" stroke-width="4.6"/>
<path d="M879.4,1335.4 V1322" stroke="#000" stroke-width="4.6"/>
<path d="M940.6,1335.4 V1322" stroke="#000" stroke-width="4.6"/>
<path d="M998.3,1335.4 V1309.7" stroke="#000" stroke-width="4.6"/>
<path d="M1052.9,1335.4 V1322" stroke="#000" stroke-width="4.6"/>
<path d="M1104.7,1335.4 V1322" stroke="#000" stroke-width="4.6"/>
<path d="M1153.9,1335.4 V1322" stroke="#000" stroke-width="4.6"/>
<path d="M1200.9,1335.4 V1322" stroke="#000" stroke-width="4.6"/>
<path d="M1245.8,1335.4 V1322" stroke="#000" stroke-width="4.6"/>
<path d="M1288.7,1335.4 V1322" stroke="#000" stroke-width="4.6"/>
<path d="M1330.0,1335.4 V1322" stroke="#000" stroke-width="4.6"/>
<path d="M1369.6,1335.4 V1322" stroke="#000" stroke-width="4.6"/>
<path d="M1407.7,1335.4 V1309.7" stroke="#000" stroke-width="4.6"/>
<path d="M1444.4,1335.4 V1322" stroke="#000" stroke-width="4.6"/>
<path d="M1479.8,1335.4 V1322" stroke="#000" stroke-width="4.6"/>
<path d="M1514.0,1335.4 V1322" stroke="#000" stroke-width="4.6"/>
<path d="M1547.1,1335.4 V1322" stroke="#000" stroke-width="4.6"/>
<path d="M1579.2,1335.4 V1322" stroke="#000" stroke-width="4.6"/>
<path d="M1610.3,1335.4 V1322" stroke="#000" stroke-width="4.6"/>
<path d="M1640.4,1335.4 V1322" stroke="#000" stroke-width="4.6"/>
<path d="M1669.7,1335.4 V1322" stroke="#000" stroke-width="4.6"/>
<path d="M1698.1,1335.4 V1309.7" stroke="#000" stroke-width="4.6"/>
<path d="M1725.8,1335.4 V1322" stroke="#000" stroke-width="4.6"/>
<path d="M1752.7,1335.4 V1322" stroke="#000" stroke-width="4.6"/>
<path d="M1778.9,1335.4 V1322" stroke="#000" stroke-width="4.6"/>
<path d="M1804.5,1335.4 V1322" stroke="#000" stroke-width="4.6"/>
<path d="M1829.4,1335.4 V1322" stroke="#000" stroke-width="4.6"/>
<path d="M1853.7,1335.4 V1322" stroke="#000" stroke-width="4.6"/>
<path d="M1877.5,1335.4 V1322" stroke="#000" stroke-width="4.6"/>
<path d="M1900.7,1335.4 V1322" stroke="#000" stroke-width="4.6"/>
<path d="M1923.4,1335.4 V1309.7" stroke="#000" stroke-width="4.6"/>
<path d="M1945.6,1335.4 V1322" stroke="#000" stroke-width="4.6"/>
<path d="M1967.3,1335.4 V1322" stroke="#000" stroke-width="4.6"/>
<path d="M1988.5,1335.4 V1322" stroke="#000" stroke-width="4.6"/>
<path d="M2009.4,1335.4 V1322" stroke="#000" stroke-width="4.6"/>
<path d="M2029.8,1335.4 V1322" stroke="#000" stroke-width="4.6"/>
<path d="M2049.8,1335.4 V1322" stroke="#000" stroke-width="4.6"/>
<path d="M2069.4,1335.4 V1322" stroke="#000" stroke-width="4.6"/>
<path d="M2088.6,1335.4 V1322" stroke="#000" stroke-width="4.6"/>
<path d="M2107.5,1335.4 V1309.7" stroke="#000" stroke-width="4.6"/>
<path d="M2126.0,1335.4 V1322" stroke="#000" stroke-width="4.6"/>
<path d="M2144.2,1335.4 V1322" stroke="#000" stroke-width="4.6"/>
<path d="M2162.0,1335.4 V1322" stroke="#000" stroke-width="4.6"/>
<path d="M2179.6,1335.4 V1322" stroke="#000" stroke-width="4.6"/>
<path d="M2196.9,1335.4 V1322" stroke="#000" stroke-width="4.6"/>
<path d="M2213.8,1335.4 V1322" stroke="#000" stroke-width="4.6"/>
<path d="M2230.5,1335.4 V1322" stroke="#000" stroke-width="4.6"/>
<path d="M2246.9,1335.4 V1322" stroke="#000" stroke-width="4.6"/>
<path d="M2263.1,1335.4 V1309.7" stroke="#000" stroke-width="4.6"/>
<path d="M2279.0,1335.4 V1322" stroke="#000" stroke-width="4.6"/>
<path d="M2294.6,1335.4 V1322" stroke="#000" stroke-width="4.6"/>
<path d="M2310.1,1335.4 V1322" stroke="#000" stroke-width="4.6"/>
<path d="M2325.2,1335.4 V1322" stroke="#000" stroke-width="4.6"/>
<text transform="translate(273.4,1358.0) scale(0.99,1)" font-size="80" text-anchor="end">0</text>
<text transform="translate(273.4,1197.3) scale(0.99,1)" font-size="80" text-anchor="end">10</text>
<text transform="translate(273.4,1036.7) scale(0.99,1)" font-size="80" text-anchor="end">20</text>
<text transform="translate(273.4,876.1) scale(0.99,1)" font-size="80" text-anchor="end">30</text>
<text transform="translate(273.4,715.4) scale(0.99,1)" font-size="80" text-anchor="end">40</text>
<text transform="translate(273.4,554.8) scale(0.99,1)" font-size="80" text-anchor="end">50</text>
<text transform="translate(273.4,394.1) scale(0.99,1)" font-size="80" text-anchor="end">60</text>
<text transform="translate(273.4,233.4) scale(0.99,1)" font-size="80" text-anchor="end">70</text>
<text transform="translate(273.4,72.8) scale(0.99,1)" font-size="80" text-anchor="end">80</text>
<text transform="translate(299.8,1422.0) scale(0.975,1)" font-size="80" text-anchor="middle">0.2</text>
<text transform="translate(997.0,1422.0) scale(0.975,1)" font-size="80" text-anchor="middle">0.4</text>
<text transform="translate(1407.1,1422.0) scale(0.975,1)" font-size="80" text-anchor="middle">0.6</text>
<text transform="translate(1697.3,1422.0) scale(0.975,1)" font-size="80" text-anchor="middle">0.8</text>
<text transform="translate(1921.6,1422.0) scale(0.975,1)" font-size="80" text-anchor="middle">1</text>
<text transform="translate(2109.3,1422.0) scale(0.975,1)" font-size="80" text-anchor="middle">1.2</text>
<text transform="translate(2262.8,1422.0) scale(0.975,1)" font-size="80" text-anchor="middle">1.4</text>
<text transform="translate(1228.4,1536.0) scale(0.979,1)" font-size="85" text-anchor="middle">Frequency [kHz]</text>
<text transform="translate(76.0,698.5) rotate(-90) scale(0.984,1)" font-size="85" text-anchor="middle">SPL [dB]</text>
<path d="M1670,151 H1847" stroke="#4d4d4d" stroke-width="4.8"/>
<path d="M1670,246 H1847" stroke="#0000ff" stroke-width="4.8"/>
<path d="M1670,342 H1825" stroke="#ff0000" stroke-width="4.8" stroke-dasharray="22.5 21.5"/>
<text transform="translate(1862.2,177.6) scale(0.952,1)" font-size="82" text-anchor="start">Simulation</text>
<text transform="translate(1862.3,274.0) scale(0.952,1)" font-size="82" text-anchor="start">Experiment</text>
<text transform="translate(1862.3,368.8) scale(0.952,1)" font-size="82" text-anchor="start">Background</text>
</svg>
</body></html>
